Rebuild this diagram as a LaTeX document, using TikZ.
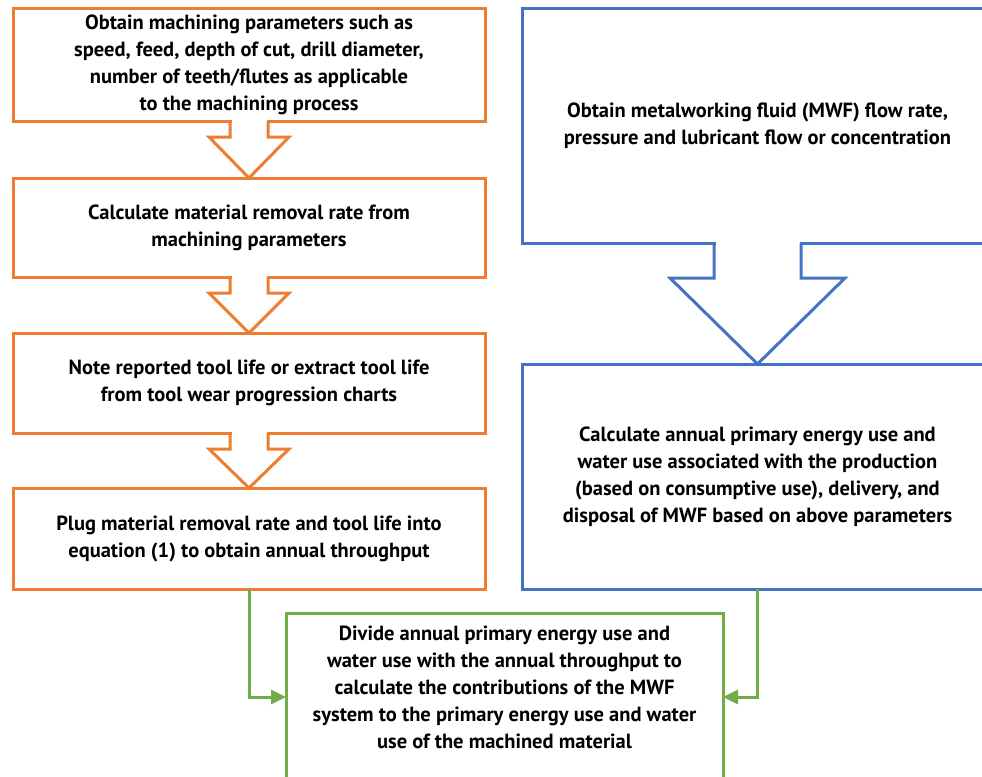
\documentclass[tikz,border=0pt]{standalone}
\usepackage{fontspec}
\setmainfont{PT Sans}
\usetikzlibrary{arrows.meta, positioning, calc}

\definecolor{procorange}{HTML}{ED7D31}
\definecolor{fluidblue}{HTML}{4472C4}
\definecolor{resultgreen}{HTML}{70AD47}

\begin{document}
\begin{tikzpicture}[
        x=1pt, y=-1pt,
        stepbox/.style={
            rectangle,
            minimum width=472pt,
            align=center,
            draw=procorange,
            fill=white,
            line width=3pt,
            inner sep=0pt,
            outer sep=0pt,
            font=\bfseries\fontsize{20.5}{27}\selectfont
        },
        fluidbox/.style={
            stepbox,
            minimum width=471pt,
            draw=fluidblue
        },
        resultbox/.style={
            stepbox,
            minimum width=437pt,
            draw=resultgreen
        },
        boxtext/.style={
            align=center,
            inner sep=0pt,
            font=\bfseries\fontsize{20.5}{27}\selectfont
        },
        flowarrow/.style={
            line width=3pt,
            line join=miter
        },
        feed/.style={
            -{Triangle[length=15pt,width=14pt]},
            draw=resultgreen,
            line width=3pt
        }
    ]
        \useasboundingbox (0,0) rectangle (982,776);

        % machining side
        \node (params) [stepbox, minimum height=112pt] at (249,65) {Obtain machining parameters such as\\ speed, feed, depth of cut, drill diameter,\\ number of teeth/flutes as applicable\\ to the machining process};
        \node (mrr) [stepbox, minimum height=99pt, below=57pt of params] {Calculate material removal rate from\\ machining parameters};
        \node (life) [stepbox, minimum height=100pt, below=56pt of mrr] {Note reported tool life or extract tool life\\ from tool wear progression charts};
        \node (plug) [stepbox, minimum height=101pt, below=55pt of life] {Plug material removal rate and tool life into\\ equation (1) to obtain annual throughput};

        % fluid side
        \node (fluid) [fluidbox, minimum height=234pt] at (757.5,126) {Obtain metalworking fluid (MWF) flow rate,\\ pressure and lubricant flow or concentration};
        \node (energy) [fluidbox, minimum height=225pt, below=121pt of fluid] {Calculate annual primary energy use and\\ water use associated with the production\\ (based on consumptive use), delivery, and\\ disposal of MWF based on above parameters};

        % result
        \node (div) [resultbox, minimum height=168pt] at (504.5,697) {};
        \node (divtext) [boxtext] at ($(div.center)+(0,-10)$) {Divide annual primary energy use and\\ water use with the annual throughput to\\ calculate the contributions of the MWF\\ system to the primary energy use and water\\ use of the machined material};

        % block arrows
        \foreach \a/\b in {params/mrr, mrr/life, life/plug} {
            \fill[white] ($(\a.south)+(-17.5,-2)$) rectangle ($(\a.south)+(17.5,2)$);
            \draw[flowarrow, draw=procorange] ($(\a.south)+(-19,0)$) -- ++(0,16) -- ++(-21,0) -- (\b.north) -- ($(\a.south)+(40,16)$) -- ++(-21,0) -- ++(0,-16);
        }
        \fill[white] ($(fluid.south)+(-42,-2)$) rectangle ($(fluid.south)+(42,2)$);
        \draw[flowarrow, draw=fluidblue] ($(fluid.south)+(-43.5,0)$) -- ++(0,35) -- ++(-44,0) -- (energy.north) -- ($(fluid.south)+(87.5,35)$) -- ++(-44,0) -- ++(0,-35);

        \draw [feed] (plug.south) |- (div.west);
        \draw [feed] (energy.south) |- (div.east);
    \end{tikzpicture}
\end{document}
